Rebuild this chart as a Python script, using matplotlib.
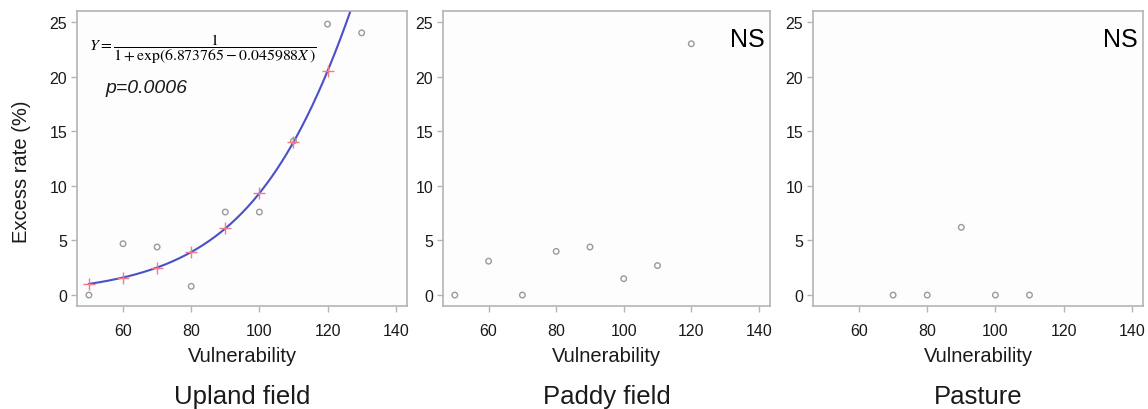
import numpy as np
import matplotlib
matplotlib.use("Agg")
import matplotlib.pyplot as plt

plt.rcParams['font.family'] = ['Liberation Sans', 'DejaVu Sans']
plt.rcParams['mathtext.fontset'] = 'stix'

# Upland field
up_x = [50, 60, 70, 80, 90, 100, 110, 120, 130]
up_y = [0.0, 4.7, 4.4, 0.8, 7.6, 7.6, 14.1, 24.8, 24.0]
up_fit_x = [50, 60, 70, 80, 90, 100, 110, 120]
up_fit_y = [1.0, 1.6, 2.5, 3.9, 6.1, 9.3, 14.0, 20.5]
fit_a = 6.873765
fit_b = 0.045988

# Paddy field
pa_x = [50, 60, 70, 80, 90, 100, 110, 120]
pa_y = [0.0, 3.1, 0.0, 4.0, 4.4, 1.5, 2.7, 23.0]

# Pasture
ps_x = [70, 80, 90, 100, 110]
ps_y = [0.0, 0.0, 6.2, 0.0, 0.0]

titles = ["Upland field", "Paddy field", "Pasture"]
xticks = [60, 80, 100, 120, 140]
yticks = [0, 5, 10, 15, 20, 25]

W, H = 1148, 410
fig = plt.figure(figsize=(W / 100, H / 100), dpi=100)

boxes = [(77, 12, 407, 307), (443, 12, 770, 307), (813, 12, 1143, 307)]
axes = []
for (l, t, r, b) in boxes:
    ax = fig.add_axes([l / W, 1 - b / H, (r - l) / W, (b - t) / H])
    ax.set_xlim(46.5, 143.3)
    ax.set_ylim(-1.0, 26.0)
    ax.set_xticks(xticks)
    ax.set_yticks(yticks)
    for s in ax.spines.values():
        s.set_color('#b4b4b4')
        s.set_linewidth(1.2)
    ax.tick_params(direction='out', length=4, width=1, color='#b4b4b4',
                   labelsize=11.5, labelcolor='#1a1a1a')
    ax.tick_params(axis='x', pad=8)
    ax.tick_params(axis='y', pad=3)
    ax.set_facecolor('#fdfdfd')
    cx = (l + r) / 2 / W
    fig.text(cx, 1 - 357 / H, "Vulnerability", fontsize=14.5, ha='center', va='center',
             color='#1a1a1a')
    axes.append(ax)

circ = dict(marker='o', s=16, facecolors='none', edgecolors='#9a9a9a', linewidths=1.0, zorder=3)

ax = axes[0]
ax.scatter(up_x, up_y, **circ)
xs = np.linspace(50, 130, 400)
ys = 100.0 / (1.0 + np.exp(fit_a - fit_b * xs))
ax.plot(xs, ys, color='#4b4fc8', lw=1.5, zorder=2)
ax.scatter(up_fit_x, up_fit_y, marker='+', s=75, color='#f07a8a', linewidths=1.0, zorder=4)
fig.text(22 / W, 1 - 172 / H, "Excess rate (%)", fontsize=14.5, rotation=90,
         ha='center', va='center', color='#1a1a1a')
ax.text(0.035, 0.875,
        r"$Y=\dfrac{1}{1+\exp(6.873765-0.045988X\,)}$",
        transform=ax.transAxes, fontsize=11.3, va='center', ha='left')
ax.text(0.085, 0.742, "p=0.0006", style='italic', fontsize=14,
        transform=ax.transAxes, va='center', ha='left', color='#1a1a1a')

ax = axes[1]
ax.scatter(pa_x, pa_y, **circ)
ax.text(0.985, 0.905, "NS", fontsize=18, transform=ax.transAxes, ha='right', va='center')

ax = axes[2]
ax.scatter(ps_x, ps_y, **circ)
ax.text(0.985, 0.905, "NS", fontsize=18, transform=ax.transAxes, ha='right', va='center')

for (l, t, r, b), ttl in zip(boxes, titles):
    fig.text((l + r) / 2 / W, 1 - 397 / H, ttl, fontsize=18.5, ha='center', va='center',
             color='#1a1a1a')

fig.savefig("out.png", dpi=100)
